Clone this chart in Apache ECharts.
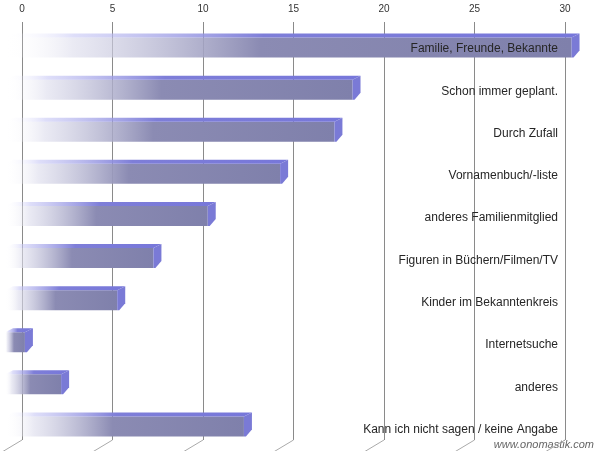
<!DOCTYPE html>
<html>
<head>
<meta charset="utf-8">
<script src="https://cdn.jsdelivr.net/npm/echarts@6/dist/echarts.min.js"></script>
<style>html,body{margin:0;padding:0;background:#fff;}#c{width:600px;height:451px;}</style>
</head>
<body>
<div id="c"></div>
<script>
var categories = [
  'Familie, Freunde, Bekannte',
  'Schon immer geplant.',
  'Durch Zufall',
  'Vornamenbuch/-liste',
  'anderes Familienmitglied',
  'Figuren in Büchern/Filmen/TV',
  'Kinder im Bekanntenkreis',
  'Internetsuche',
  'anderes',
  'Kann ich nicht sagen / keine Angabe'
];
var values = [31.3, 19.2, 18.2, 15.2, 11.2, 8.2, 6.2, 1.1, 3.1, 13.2];
var xTicks = [0, 5, 10, 15, 20, 25, 30];

var chart = echarts.init(document.getElementById('c'));
var FONT = '"Liberation Sans", Arial, sans-serif';

function renderBar(params, api) {
  var v = api.value(0), c = api.value(1);
  var p0 = api.coord([0, c]);
  var p1 = api.coord([v, c]);
  var cy = p0[1];
  var off = 17, dx = 8, dy = 4, h = 10;
  var xl = p0[0] - off, xr = p1[0] - off;
  var yt = cy - h, yb = cy + h;
  var frontGrad = new echarts.graphic.LinearGradient(0, 0, 1, 0, [
    {offset: 0, color: 'rgba(255,255,255,0)'},
    {offset: 0.12, color: 'rgba(220,220,236,0.6)'},
    {offset: 0.45, color: '#8b8bb3'},
    {offset: 1, color: '#7f80ab'}
  ]);
  var topGrad = new echarts.graphic.LinearGradient(0, 0, 1, 0, [
    {offset: 0, color: 'rgba(255,255,255,0)'},
    {offset: 0.12, color: 'rgba(200,200,245,0.6)'},
    {offset: 0.45, color: '#7e7ed8'},
    {offset: 1, color: '#7777da'}
  ]);
  return {
    type: 'group',
    children: [
      {type: 'rect', shape: {x: xl, y: yt, width: Math.max(xr - xl, 0), height: yb - yt}, style: {fill: frontGrad}},
      {type: 'polygon', shape: {points: [[xl, yt], [xr, yt], [xr + dx, yt - dy], [xl + dx, yt - dy]]}, style: {fill: topGrad}},
      {type: 'polygon', shape: {points: [[xr, yt], [xr + dx, yt - dy], [xr + dx, yb - dy - 3], [xr + 2, yb], [xr, yb]]}, style: {fill: '#7a7ad6'}}
    ]
  };
}

var option = {
  animation: false,
  backgroundColor: '#ffffff',
  grid: [
    {left: 22, width: 543, top: 22, bottom: 11},
    {left: 22, width: 543, top: 26.5, height: 421},
    {left: 22, width: 543, top: 27.7, height: 425.6}
  ],
  xAxis: [
    {
      gridIndex: 0, type: 'value', position: 'top', min: 0, max: 30, interval: 5,
      axisLine: {show: false}, axisTick: {show: false},
      axisLabel: {margin: 8, fontSize: 10, color: '#333', fontFamily: FONT,
        formatter: function (v) { return xTicks.indexOf(v) >= 0 ? String(v) : ''; }},
      splitLine: {show: true, lineStyle: {color: '#8a8a8a', width: 1}}
    },
    {gridIndex: 1, type: 'value', min: 0, max: 30, show: false},
    {gridIndex: 2, type: 'value', min: 0, max: 30, show: false}
  ],
  yAxis: [
    {gridIndex: 0, type: 'value', show: false},
    {gridIndex: 1, type: 'category', data: categories, inverse: true, show: false},
    {
      gridIndex: 2, type: 'category', data: categories, inverse: true, position: 'right', z: 10,
      axisLine: {show: false}, axisTick: {show: false}, splitLine: {show: false},
      axisLabel: {inside: true, margin: 7, fontSize: 12, color: '#262626', fontFamily: FONT}
    }
  ],
  series: [{
    type: 'custom', xAxisIndex: 1, yAxisIndex: 1, clip: false,
    renderItem: renderBar,
    encode: {x: 0, y: 1},
    data: values.map(function (v, i) { return [v, i]; })
  }],
  graphic: [{
    type: 'text', right: 6, bottom: 1,
    style: {text: 'www.onomastik.com', fontSize: 11, fontStyle: 'italic', fill: '#666', fontFamily: FONT}
  }]
};
chart.setOption(option);

var floor = xTicks.map(function (t) {
  var x = chart.convertToPixel({xAxisIndex: 0}, t);
  return {type: 'line', shape: {x1: x, y1: 440, x2: x - 20, y2: 452}, style: {stroke: '#aaaaaa', lineWidth: 1}, z: 1};
});
chart.setOption({graphic: option.graphic.concat(floor)});
</script>
</body>
</html>
